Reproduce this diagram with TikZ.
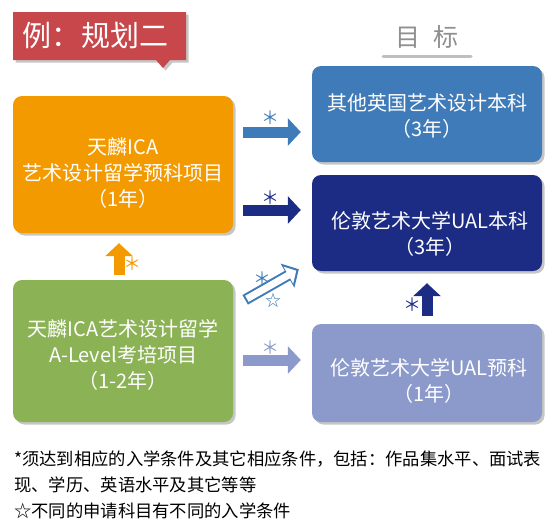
\documentclass[tikz,border=0pt]{standalone}
\usepackage{fontspec}
\setmainfont{Noto Sans CJK SC}
\usetikzlibrary{arrows.meta, positioning, shadows, calc}

\definecolor{cTitle}{HTML}{C8474B}
\definecolor{cOrange}{HTML}{F39A00}
\definecolor{cGreen}{HTML}{8CB256}
\definecolor{cBlue}{HTML}{3F7BB8}
\definecolor{cNavy}{HTML}{1C2C85}
\definecolor{cLav}{HTML}{8C9ACB}
\definecolor{cGoal}{HTML}{8F8F8F}

\begin{document}
\begin{tikzpicture}[
    x=1pt, y=-1pt,
    font=\fontsize{20}{26}\selectfont,
    softshadow/.style={drop shadow={shadow xshift=2.5pt, shadow yshift=-2.5pt, fill=black!50, opacity=.45}},
    box/.style={rectangle, rounded corners=9pt, minimum width=230pt, inner sep=0pt, softshadow},
    boxtext/.style={text=white, align=center, inner sep=0pt},
    fatarrow/.style={line width=11pt, -{Triangle[width=27pt, length=13pt]}},
    note/.style={font=\fontsize{18}{18}\selectfont, inner sep=0pt, anchor=base}
]
    \useasboundingbox (0,0) rectangle (554,531);

    % title callout
    \fill[cTitle, softshadow] (13,12) -- (186,12) -- (186,60) -- (170,60) -- (163,68) -- (156,60) -- (13,60) -- cycle;
    \node[text=white, font=\fontsize{29}{29}\selectfont] (title) at (95.5,36) {例：规划二};

    % goal heading
    \node[text=cGoal, font=\fontsize{25}{25}\selectfont] (goal) at (427,37) {目\hspace{0.55em}标};
    \draw[black!25, line width=3pt, line cap=round] (383,56) -- (471,56);

    % programmes
    \node[box, fill=cOrange, minimum width=220pt, minimum height=137pt] (pre) at (123,164.5) {};
    \node[boxtext] at ([yshift=-9pt]pre) {天麟ICA\\艺术设计留学预科项目\\（1年）};
    \node[box, fill=cGreen, minimum width=220pt, minimum height=142pt] (alevel) at (123,351) {};
    \node[boxtext] at ([yshift=-4pt]alevel) {天麟ICA艺术设计留学\\A-Level考培项目\\（1-2年）};
    \node[box, fill=cBlue, minimum height=96pt] (uk) at (427,114) {};
    \node[boxtext] at ([yshift=-2pt]uk) {其他英国艺术设计本科\\（3年）};
    \node[box, fill=cNavy, minimum height=96pt] (ual) at (427,223) {};
    \node[boxtext] at ([xshift=3pt, yshift=-11pt]ual) {伦敦艺术大学UAL本科\\（3年）};
    \node[box, fill=cLav, minimum height=98pt] (found) at (427,373) {};
    \node[boxtext] at ([xshift=2pt, yshift=-8pt]found) {伦敦艺术大学UAL预科\\（1年）};

    % routes
    \draw[fatarrow, cBlue, shorten <=10pt, shorten >=11pt] ([yshift=32.5pt]pre.east) -- ([yshift=32.5pt]pre.east -| uk.west)
        node[note, pos=.47, yshift=8pt] {＊};
    \draw[fatarrow, cNavy, shorten <=10pt, shorten >=11pt] ([yshift=-45.5pt]pre.east) -- ([yshift=-45.5pt]pre.east -| ual.west)
        node[note, pos=.47, yshift=6pt] {＊};
    \draw[fatarrow, cLav, shorten <=10pt, shorten >=11pt] ([yshift=-9pt]alevel.east) -- ([yshift=-9pt]alevel.east -| found.west)
        node[note, pos=.47, yshift=6pt] {＊};
    \draw[fatarrow, cOrange, shorten <=5pt, shorten >=10pt] ([xshift=-4pt]alevel.north) -- ([xshift=-4pt]pre.south)
        node[note, pos=.36, xshift=13pt, yshift=-7pt] {＊};
    \draw[fatarrow, cNavy, shorten <=8pt, shorten >=12pt] (found.north) -- (ual.south)
        node[note, pos=.36, xshift=-15pt, yshift=-7pt] {＊};

    % open arrow
    \draw[fatarrow, cBlue] ([xshift=12pt, yshift=-20pt]alevel.north east) -- ([xshift=-13pt, yshift=2pt]ual.south west)
        node[note, pos=.3, xshift=1pt, yshift=5pt] {＊}
        node[note, font=\fontsize{16}{16}\selectfont, pos=.5, xshift=1pt, yshift=-22pt] {☆};
    \draw[white, line width=7pt, shorten <=2pt, shorten >=3pt, -{Triangle[width=19pt, length=9pt]}]
        ([xshift=12pt, yshift=-20pt]alevel.north east) -- ([xshift=-13pt, yshift=2pt]ual.south west);

    % footnotes
    \node[anchor=west, align=left, inner sep=0pt, font=\fontsize{17.3}{26}\selectfont] (remarks) at (14,485)
        {*须达到相应的入学条件及其它相应条件，包括：作品集水平、面试表\\现、学历、英语水平及其它等等\\☆不同的申请科目有不同的入学条件};
\end{tikzpicture}
\end{document}
